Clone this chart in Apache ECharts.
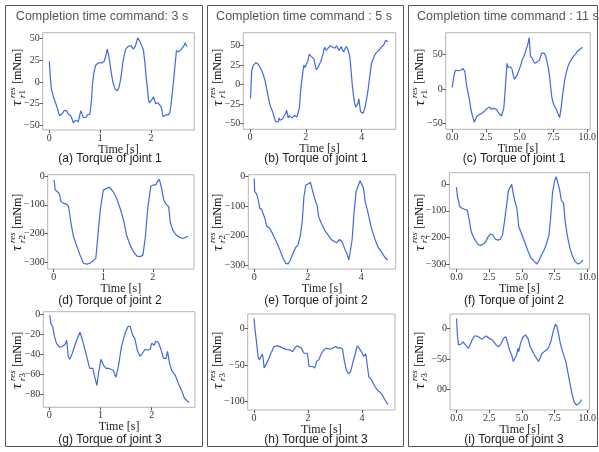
<!DOCTYPE html>
<html><head><meta charset="utf-8">
<script src="https://cdn.jsdelivr.net/npm/echarts/dist/echarts.min.js"></script>
<style>html,body{margin:0;padding:0;background:#fff}#c{width:599px;height:452px}</style>
</head><body><div id="c"></div>
<script>
// ---- data: [time (s), torque (mNm)] ----
const j1_3s = [[0,24],[0.02,5],[0.04,-8],[0.08,-17],[0.11,-22],[0.14,-27],[0.17,-33],[0.2,-39],[0.23,-37],[0.26,-36],[0.29,-33],[0.31,-35],[0.34,-33],[0.37,-37],[0.4,-36],[0.42,-39],[0.45,-43],[0.47,-47],[0.5,-45],[0.52,-44],[0.55,-46],[0.57,-46],[0.6,-38],[0.62,-33],[0.65,-38],[0.67,-41],[0.7,-43],[0.72,-41],[0.75,-38],[0.78,-39],[0.8,-37],[0.83,-20],[0.85,-2],[0.88,12],[0.91,19],[0.94,21],[0.96,22],[0.99,20],[1.03,22],[1.06,21],[1.08,24],[1.11,30],[1.14,38],[1.17,30],[1.19,22],[1.22,10],[1.25,0],[1.29,-8],[1.32,-10],[1.34,-10],[1.37,-6],[1.39,-1],[1.42,10],[1.44,20],[1.47,30],[1.5,38],[1.53,40],[1.55,41],[1.58,39],[1.61,42],[1.63,40],[1.65,38],[1.67,40],[1.69,41],[1.72,47],[1.74,51],[1.77,48],[1.8,44],[1.83,40],[1.85,37],[1.88,22],[1.9,8],[1.93,-8],[1.95,-20],[1.97,-24],[1.99,-25],[2.02,-20],[2.05,-17],[2.07,-21],[2.09,-25],[2.12,-23],[2.14,-24],[2.17,-26],[2.2,-29],[2.22,-35],[2.24,-40],[2.27,-38],[2.29,-38],[2.32,-39],[2.34,-38],[2.37,-35],[2.39,-28],[2.42,-12],[2.44,0],[2.47,18],[2.5,36],[2.53,37],[2.55,35],[2.57,36],[2.6,38],[2.62,39],[2.65,42],[2.67,45],[2.69,43],[2.71,41]];
const j1_5s = [[0.02,-18],[0.04,0],[0.06,17],[0.09,22],[0.12,25],[0.16,27],[0.21,28],[0.26,27.5],[0.3,26],[0.36,22],[0.42,18],[0.48,12],[0.54,5],[0.6,-6],[0.65,-15],[0.7,-24],[0.74,-29],[0.78,-31],[0.81,-35],[0.85,-40],[0.89,-45],[0.92,-48],[0.95,-50],[0.98,-46],[1.01,-48],[1.04,-43],[1.08,-46],[1.13,-45],[1.17,-44],[1.21,-41],[1.25,-43],[1.28,-37],[1.31,-33],[1.34,-38],[1.37,-43],[1.41,-40],[1.45,-39],[1.5,-43],[1.55,-42],[1.6,-40],[1.64,-39],[1.68,-42],[1.73,-41],[1.77,-30],[1.81,-10],[1.85,4],[1.89,15],[1.93,25],[1.97,22],[2.02,21],[2.07,30],[2.12,39],[2.16,37],[2.2,36],[2.25,35],[2.29,33],[2.33,26],[2.38,19],[2.42,20],[2.45,23],[2.5,27],[2.54,30],[2.58,35],[2.62,40],[2.65,45],[2.68,48],[2.72,44],[2.76,44],[2.8,47],[2.83,48],[2.88,50],[2.92,52],[2.96,48],[3.0,49],[3.05,47],[3.1,50],[3.14,47],[3.19,44],[3.23,46],[3.27,49],[3.31,45],[3.36,42],[3.4,46],[3.45,49],[3.5,46],[3.54,44],[3.57,37],[3.6,27],[3.64,10],[3.67,-3],[3.71,-15],[3.75,-24],[3.79,-29],[3.83,-31],[3.87,-24],[3.9,-18],[3.93,-27],[3.96,-35],[4.0,-37],[4.05,-37],[4.09,-33],[4.13,-28],[4.18,-18],[4.23,-7],[4.29,10],[4.35,27],[4.39,31],[4.43,33],[4.47,38],[4.52,41],[4.57,40],[4.62,44],[4.66,46],[4.7,48],[4.74,47],[4.79,51],[4.83,53],[4.86,57],[4.9,56],[4.94,55]];
const j1_11s = [[0,2.4],[0.06,10],[0.12,18],[0.18,23],[0.24,27],[0.33,26],[0.43,26.5],[0.53,25.5],[0.63,27],[0.72,28],[0.8,29.5],[0.87,28],[0.94,25],[1.02,12],[1.09,3],[1.18,-6],[1.28,-16],[1.36,-26],[1.45,-35],[1.55,-42],[1.64,-48],[1.72,-44],[1.81,-40],[1.9,-41],[2.0,-37],[2.1,-38],[2.2,-35],[2.3,-34],[2.39,-32],[2.48,-30],[2.58,-28],[2.68,-27],[2.78,-26],[2.88,-29],[2.97,-30],[3.06,-28],[3.16,-28],[3.26,-29],[3.36,-31],[3.46,-35],[3.55,-37],[3.65,-39],[3.74,-40],[3.82,-28],[3.89,-11],[3.97,12],[4.06,37],[4.14,31],[4.23,30],[4.32,32],[4.42,29],[4.52,20],[4.61,14],[4.71,17],[4.81,20],[4.9,25],[5.0,30],[5.1,36],[5.19,42],[5.29,46],[5.39,51],[5.48,57],[5.58,63],[5.64,68],[5.7,74],[5.75,60],[5.8,47],[5.87,45],[5.94,44],[6.02,40],[6.11,37],[6.2,38],[6.3,39],[6.38,41],[6.47,42],[6.55,47],[6.64,52],[6.74,52],[6.84,51],[6.94,46],[7.03,39],[7.12,30],[7.2,20],[7.28,5],[7.37,-11],[7.46,-19],[7.56,-24],[7.64,-27],[7.73,-30],[7.82,-35],[7.9,-37],[7.96,-41],[8.0,-40],[8.08,-25],[8.16,-11],[8.25,2],[8.33,13],[8.43,22],[8.53,30],[8.62,35],[8.72,39],[8.8,42],[8.89,44],[8.98,47],[9.06,49],[9.16,51],[9.25,54],[9.35,55],[9.44,57],[9.54,58],[9.64,60]];
const j2_3s = [[0.01,-14],[0.03,-48],[0.07,-54],[0.11,-60],[0.15,-89],[0.2,-95],[0.25,-97],[0.3,-106],[0.33,-109],[0.35,-164],[0.4,-211],[0.46,-240],[0.53,-274],[0.6,-303],[0.67,-306],[0.73,-303],[0.8,-294],[0.85,-286],[0.89,-211],[0.94,-118],[1.0,-49],[1.07,-43],[1.12,-39],[1.16,-34],[1.2,-54],[1.27,-78],[1.34,-112],[1.41,-153],[1.47,-205],[1.54,-240],[1.61,-263],[1.68,-278],[1.74,-280],[1.8,-275],[1.85,-211],[1.9,-107],[1.96,-35],[2.01,-31],[2.06,-31],[2.09,-20],[2.13,-12],[2.17,-37],[2.22,-83],[2.26,-97],[2.32,-107],[2.35,-159],[2.4,-188],[2.47,-205],[2.54,-213],[2.61,-217],[2.66,-213],[2.71,-209]];
const j2_5s = [[0,-8],[0.02,-52],[0.09,-60],[0.15,-80],[0.21,-108],[0.29,-114],[0.34,-111],[0.4,-142],[0.46,-167],[0.58,-175],[0.71,-197],[0.83,-220],[0.96,-247],[1.08,-275],[1.18,-292],[1.27,-294],[1.35,-281],[1.45,-259],[1.55,-239],[1.64,-231],[1.73,-197],[1.8,-147],[1.86,-69],[1.93,-30],[2.01,-27],[2.1,-21],[2.17,-24],[2.24,-69],[2.3,-86],[2.35,-97],[2.41,-136],[2.51,-158],[2.63,-181],[2.76,-197],[2.88,-212],[3.01,-220],[3.09,-223],[3.19,-212],[3.28,-220],[3.38,-242],[3.47,-261],[3.54,-281],[3.6,-275],[3.66,-214],[3.73,-125],[3.81,-52],[3.9,-30],[3.96,-16],[4.02,-19],[4.09,-41],[4.15,-86],[4.21,-91],[4.29,-136],[4.37,-170],[4.5,-208],[4.62,-236],[4.75,-253],[4.87,-270],[4.99,-281]];
const j2_11s = [[0,-11],[0.07,-46],[0.17,-65],[0.25,-84],[0.42,-90],[0.62,-94],[0.82,-97],[0.92,-99],[1.0,-140],[1.12,-178],[1.29,-197],[1.49,-216],[1.69,-228],[1.86,-230],[2.06,-225],[2.23,-216],[2.43,-197],[2.6,-187],[2.78,-191],[2.98,-207],[3.18,-210],[3.35,-207],[3.52,-191],[3.67,-140],[3.85,-72],[3.97,-24],[4.09,-21],[4.22,0],[4.34,-34],[4.47,-65],[4.62,-90],[4.76,-159],[4.96,-184],[5.21,-216],[5.46,-250],[5.71,-278],[5.96,-291],[6.15,-300],[6.33,-285],[6.5,-266],[6.7,-247],[6.9,-222],[7.07,-191],[7.2,-128],[7.34,-34],[7.49,10],[7.62,29],[7.77,23],[7.89,-21],[8.01,-59],[8.19,-72],[8.31,-140],[8.49,-197],[8.68,-241],[8.88,-272],[9.08,-291],[9.3,-300],[9.5,-295],[9.68,-285]];
const j3_3s = [[0.01,-1],[0.03,-9],[0.07,-13],[0.1,-22],[0.14,-29],[0.2,-33],[0.26,-32],[0.31,-30],[0.34,-26],[0.37,-42],[0.4,-45],[0.45,-39],[0.5,-31],[0.55,-24],[0.6,-18],[0.65,-26],[0.7,-36],[0.74,-44],[0.79,-54],[0.85,-54],[0.88,-61],[0.93,-71],[0.96,-59],[1.01,-45],[1.06,-51],[1.11,-54],[1.16,-54],[1.2,-55],[1.25,-56],[1.3,-63],[1.35,-52],[1.41,-32],[1.48,-19],[1.54,-12],[1.58,-12],[1.63,-21],[1.67,-24],[1.72,-36],[1.77,-42],[1.82,-39],[1.87,-35],[1.92,-36],[1.97,-35],[2.0,-29],[2.05,-31],[2.08,-27],[2.13,-28],[2.18,-35],[2.23,-44],[2.28,-44],[2.31,-37],[2.35,-49],[2.39,-56],[2.46,-61],[2.52,-69],[2.59,-77],[2.64,-84],[2.7,-87],[2.73,-88]];
const j3_5s = [[0,13.6],[0.05,-4.5],[0.1,-20],[0.15,-38],[0.2,-43],[0.25,-42],[0.31,-35],[0.34,-41],[0.38,-54],[0.44,-52],[0.53,-43],[0.63,-34],[0.74,-25],[0.86,-24],[0.96,-25],[1.08,-27],[1.21,-29],[1.33,-29.5],[1.43,-32],[1.51,-27],[1.58,-24],[1.67,-25],[1.76,-27],[1.85,-34],[1.92,-32],[1.98,-34],[2.04,-52],[2.11,-50],[2.17,-52],[2.25,-54],[2.32,-45],[2.4,-43],[2.5,-34],[2.59,-29.5],[2.68,-27],[2.81,-28.6],[2.93,-26.4],[3.03,-25],[3.12,-27],[3.2,-26.4],[3.28,-28.6],[3.34,-43],[3.42,-57],[3.51,-62],[3.58,-59],[3.67,-45],[3.74,-36],[3.82,-24],[3.89,-27],[3.98,-32],[4.06,-38],[4.14,-35],[4.19,-36],[4.25,-66],[4.35,-70],[4.47,-79],[4.59,-85],[4.72,-89],[4.84,-97],[4.96,-104]];
const j3_11s = [[0,16],[0.07,-11],[0.15,-27],[0.25,-24.5],[0.37,-25.5],[0.5,-22],[0.62,-25.5],[0.74,-27],[0.92,-32.6],[1.04,-30],[1.19,-19],[1.36,-12.5],[1.54,-12.5],[1.74,-14.7],[1.94,-18],[2.11,-14.7],[2.28,-12.5],[2.48,-16.3],[2.68,-18],[2.85,-21.7],[3.03,-27],[3.23,-30],[3.42,-24.5],[3.6,-16.3],[3.77,-13.6],[3.92,-24.5],[4.04,-35],[4.14,-38],[4.22,-43.5],[4.34,-54],[4.47,-57],[4.59,-43.5],[4.71,-32.6],[4.76,-38],[4.89,-24.5],[5.09,-13.6],[5.29,-11],[5.46,-16.3],[5.63,-30],[5.83,-38],[6.0,-45],[6.15,-46],[6.28,-54],[6.4,-54],[6.53,-41],[6.7,-38],[6.9,-35],[7.07,-30],[7.25,-19],[7.39,-5.4],[7.57,7],[7.69,2.7],[7.82,-11],[7.94,-24.5],[8.11,-38],[8.24,-39.7],[8.36,-54],[8.51,-71],[8.68,-90],[8.86,-109],[9.0,-120],[9.18,-125],[9.38,-122],[9.58,-116]];

// ---- tick labels ----
const xTicks3 = [0, 1, 2];
const xTicks5 = [0, 2, 4];
const xTicks11 = [0, 2.5, 5, 7.5, 10];
const yTicksJ1a = [-50, -25, 0, 25, 50];
const yTicksJ1b = [-50, -25, 0, 25, 50];
const yTicksJ1c = [-50, 0, 50];
const yTicksJ2 = [-300, -200, -100, 0];
const yTicksJ3a = [-80, -60, -40, -20, 0];
const yTicksJ3b = [-100, -50, 0];
const yTicksJ3c = [-100, -50, 0];

const titles = ['Completion time command: 3 s', 'Completion time command : 5 s', 'Completion time command : 11 s'];
const captions = ['(a) Torque of joint 1','(b) Torque of joint 1','(c) Torque of joint 1',
                  '(d) Torque of joint 2','(e) Torque of joint 2','(f) Torque of joint 2',
                  '(g) Torque of joint 3','(h) Torque of joint 3','(i) Torque of joint 3'];
const jointIdx = ['1','1','1','2','2','2','3','3','3'];

// ---- layout ----
const panels = [
  {g:[42.7,32.7,151.6,97.3], x:[-0.13,2.851], y:[-55.4,56.9], xt:xTicks3, yt:yTicksJ1a, d:j1_3s, ng:12, dec:0},
  {g:[243.3,32.7,152.4,96.6], x:[-0.24,5.22], y:[-57.7,66.8], xt:xTicks5, yt:yTicksJ1b, d:j1_5s, ng:12, dec:0},
  {g:[445.7,32.7,147.6,96.6], x:[-0.48,10.22], y:[-58.1,81.1], xt:xTicks11, yt:yTicksJ1c, d:j1_11s, ng:12, dec:1},
  {g:[47.7,174.7,146.3,94.3], x:[-0.12,2.83], y:[-323,4.5], xt:xTicks3, yt:yTicksJ2, d:j2_3s, ng:13, dec:0},
  {g:[248.3,174.7,147.4,94.3], x:[-0.22,5.29], y:[-311,4.3], xt:xTicks5, yt:yTicksJ2, d:j2_5s, ng:13, dec:0},
  {g:[449.3,172.7,144,96.3], x:[-0.55,10.17], y:[-318.8,43.6], xt:xTicks11, yt:yTicksJ2, d:j2_11s, ng:13, dec:1},
  {g:[43.3,311.7,151.7,95.6], x:[-0.117,2.846], y:[-93,2.6], xt:xTicks3, yt:yTicksJ3a, d:j3_3s, ng:14, dec:0},
  {g:[247.7,314,147.3,96], x:[-0.23,5.22], y:[-111.3,19.5], xt:xTicks5, yt:yTicksJ3b, d:j3_5s, ng:13, dec:0},
  {g:[450,314,143.3,96], x:[-0.5,10.17], y:[-133,23.3], xt:xTicks11, yt:yTicksJ3c, d:j3_11s, ng:13, dec:1, clip100:true}
];

const serif = '"Liberation Serif", "DejaVu Serif", serif';
const sans = '"Liberation Sans", Arial, sans-serif';
const minus = s => String(s).replace('-', '\u2212');

const grid = [], xAxis = [], yAxis = [], series = [];
panels.forEach((p, i) => {
  grid.push({left:p.g[0], top:p.g[1], width:p.g[2], height:p.g[3], show:true, borderColor:'#b4b4b4', borderWidth:1, backgroundColor:'transparent', containLabel:false});
  xAxis.push({type:'value', gridIndex:i, min:p.x[0], max:p.x[1], position:'bottom',
    name:'Time [s]', nameLocation:'middle', nameGap:p.ng,
    nameTextStyle:{fontFamily:serif, fontSize:12, color:'#222'},
    axisLine:{show:false, onZero:false}, splitLine:{show:false},
    axisTick:{show:true, length:3, lineStyle:{color:'#555'}, customValues:p.xt},
    axisLabel:{fontFamily:serif, fontSize:10, color:'#333', margin:3, customValues:p.xt,
      formatter:v => p.dec ? v.toFixed(1) : String(v)}
  });
  yAxis.push({type:'value', gridIndex:i, min:p.y[0], max:p.y[1], position:'left',
    axisLine:{show:false, onZero:false}, splitLine:{show:false},
    axisTick:{show:true, length:3, lineStyle:{color:'#555'}, customValues:p.yt},
    axisLabel:{fontFamily:serif, fontSize:10, color:'#333', margin:3, customValues:p.yt,
      formatter:v => (p.clip100 && v === -100) ? '00' : minus(v)}
  });
  series.push({type:'line', xAxisIndex:i, yAxisIndex:i, data:p.d, showSymbol:false, symbol:'none',
    lineStyle:{color:'#4169e1', width:1.2}, silent:true, animation:false});
});

const graphic = [];
// column boxes
[[5.5,5.5,197,441],[207.5,5.5,196,441],[408.5,5.5,189,441]].forEach(r => {
  graphic.push({type:'rect', shape:{x:r[0], y:r[1], width:r[2], height:r[3]}, style:{fill:'none', stroke:'#555', lineWidth:1}, silent:true});
});
// column titles
graphic.push({type:'text', style:{text:titles[0], x:102, y:17, textAlign:'center', textVerticalAlign:'middle', font:'12.5px ' + sans, fill:'#555'}});
graphic.push({type:'text', style:{text:titles[1], x:304, y:17, textAlign:'center', textVerticalAlign:'middle', font:'12.5px ' + sans, fill:'#555'}});
graphic.push({type:'text', style:{text:titles[2], x:417, y:17, textAlign:'left', textVerticalAlign:'middle', font:'12.5px ' + sans, fill:'#555'}});
// captions
const capX = [110, 316, 514], capY = [159, 300.7, 440];
captions.forEach((c, i) => {
  graphic.push({type:'text', style:{text:c, x:capX[i % 3], y:capY[Math.floor(i / 3)], textAlign:'center', textVerticalAlign:'middle', font:'12px ' + sans, fill:'#222'}});
});
// y-axis labels  tau_{r j}^{res} [mNm]
const ylX = [17.5, 218, 420], ylY = [106, 251, 389];
jointIdx.forEach((j, i) => {
  graphic.push({type:'group', x:ylX[i % 3], y:ylY[Math.floor(i / 3)], rotation:Math.PI / 2, silent:true, children:[
    {type:'text', style:{text:'\u03c4', x:0, y:0, textAlign:'left', textVerticalAlign:'middle', font:'italic 15px ' + serif, fill:'#111'}},
    {type:'text', style:{text:'res', x:8, y:-5, textAlign:'left', textVerticalAlign:'middle', font:'italic 9px ' + serif, fill:'#111'}},
    {type:'text', style:{text:'r', x:8, y:5, textAlign:'left', textVerticalAlign:'middle', font:'italic 9px ' + serif, fill:'#111'}},
    {type:'text', style:{text:j, x:11.5, y:5, textAlign:'left', textVerticalAlign:'middle', font:'9px ' + serif, fill:'#111'}},
    {type:'text', style:{text:'[mNm]', x:22, y:0, textAlign:'left', textVerticalAlign:'middle', font:'12px ' + serif, fill:'#111'}}
  ]});
});

const chart = echarts.init(document.getElementById('c'), null, {renderer:'canvas'});
chart.setOption({animation:false, backgroundColor:'#fff', grid, xAxis, yAxis, series, graphic});
</script></body></html>
